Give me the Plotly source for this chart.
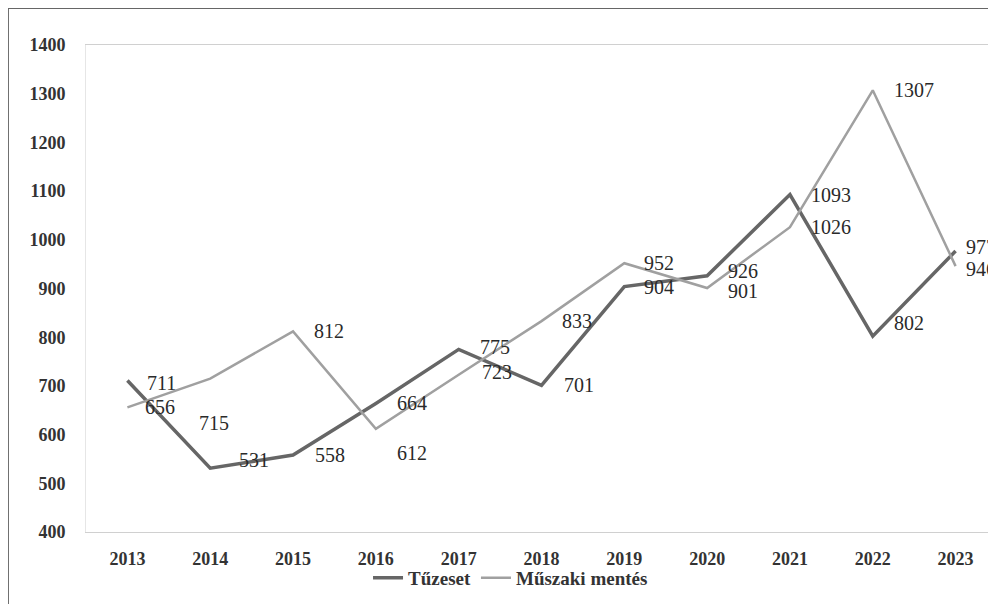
import plotly.graph_objects as go

years = ["2013", "2014", "2015", "2016", "2017", "2018", "2019", "2020", "2021", "2022", "2023"]
tuzeset = [711, 531, 558, 664, 775, 701, 904, 926, 1093, 802, 977]
muszaki = [656, 715, 812, 612, 723, 833, 952, 901, 1026, 1307, 946]
y_ticks = [400, 500, 600, 700, 800, 900, 1000, 1100, 1200, 1300, 1400]

# label offsets in pixels (style only): (xshift, yshift)
tuz_off = [(18, -2), (27, 8), (20, 0), (19, 0), (19, 2), (20, 0), (18, 0), (19, 5), (19, 0), (19, 13), (8, 4)]
mus_off = [(16, 0), (-13, -44), (19, 0), (19, -24), (21, 3), (18, 0), (18, 0), (19, -3), (19, 0), (19, 0), (8, -3)]

SERIF = "Liberation Serif"
DARK = "#666666"
LIGHT = "#a0a0a0"

fig = go.Figure()
fig.add_trace(go.Scatter(x=years, y=tuzeset, mode="lines", name="Tűzeset",
                         line=dict(color=DARK, width=3.5)))
fig.add_trace(go.Scatter(x=years, y=muszaki, mode="lines", name="Műszaki mentés",
                         line=dict(color=LIGHT, width=2.5)))

for vals, offs in ((tuzeset, tuz_off), (muszaki, mus_off)):
    for i, (v, (dx, dy)) in enumerate(zip(vals, offs)):
        # category axis: annotation x is the category index
        fig.add_annotation(x=i, y=v, xref="x", yref="y", text=str(v), showarrow=False,
                           xanchor="left", yanchor="middle", xshift=dx, yshift=dy,
                           font=dict(family=SERIF, size=20, color="#2a2a2a"))

fig.update_layout(
    width=989, height=596,
    margin=dict(l=78, r=0, t=37, b=72),
    paper_bgcolor="white", plot_bgcolor="white",
    showlegend=True,
    legend=dict(orientation="h", x=0.466, xanchor="center", y=-0.094, yanchor="middle",
                font=dict(family=SERIF, size=19, color="#333333", weight="bold"),
                itemwidth=30, tracegroupgap=0, bgcolor="rgba(0,0,0,0)"),
    xaxis=dict(type="category", categoryorder="array", categoryarray=years,
               range=[-0.5, 10.5], showgrid=False, zeroline=False,
               showline=True, linecolor="#d0d0d0", linewidth=1, mirror=True,
               ticks="", ticklabelstandoff=10,
               tickfont=dict(family=SERIF, size=18, color="#333333", weight="bold")),
    yaxis=dict(range=[400, 1400], tickvals=y_ticks, showgrid=False, zeroline=False,
               showline=True, linecolor="#e6e6e6", linewidth=1,
               ticks="", ticklabelstandoff=16,
               tickfont=dict(family=SERIF, size=18, color="#333333", weight="bold")),
)

# outer chart frame (decorative)
fig.add_shape(type="rect", xref="paper", yref="paper",
              x0=-0.0857, x1=1.2, y0=-0.3, y1=1.076,
              line=dict(color="#666666", width=2), fillcolor="rgba(0,0,0,0)", layer="below")

fig.write_html("out.html")
